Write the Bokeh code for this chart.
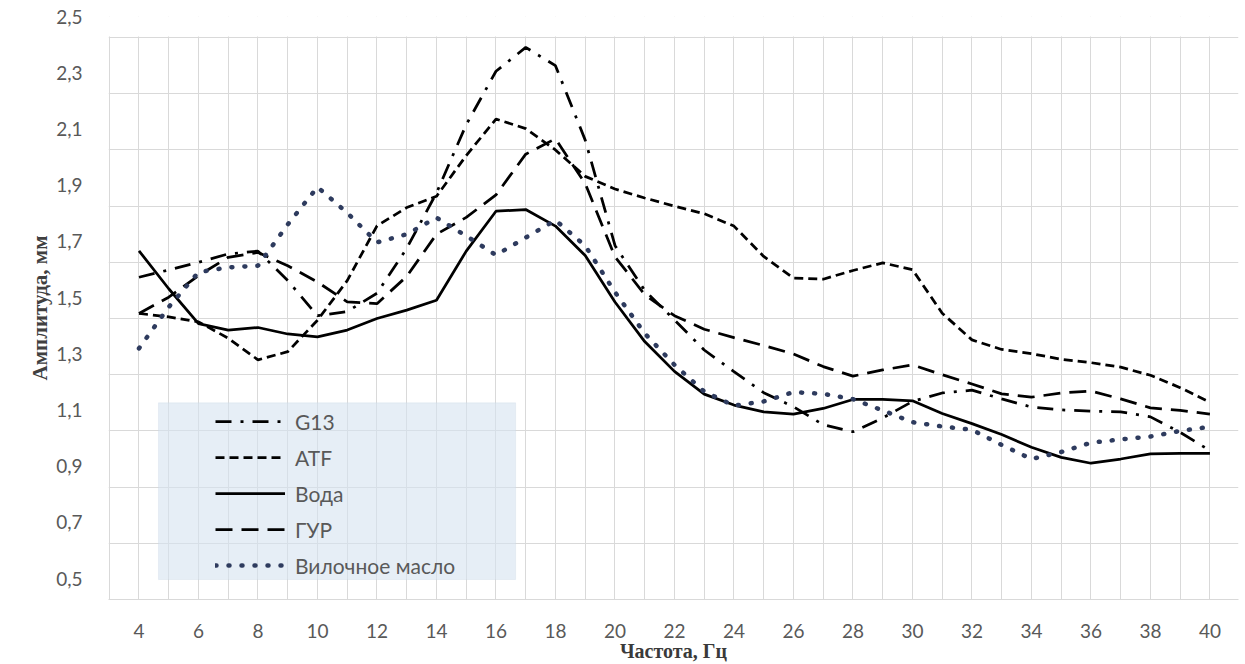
from bokeh.plotting import figure
from bokeh.models import Range1d, FixedTicker, Legend, LegendItem, BoxAnnotation
from bokeh.embed import file_html
from bokeh.resources import INLINE

# ---- data ----
freq = [4, 5, 6, 7, 8, 9, 10, 11, 12, 13, 14, 15, 16, 17, 18, 19, 20, 21, 22,
        23, 24, 25, 26, 27, 28, 29, 30, 31, 32, 33, 34, 35, 36, 37, 38, 39, 40]

g13 = [1.647, 1.673, 1.700, 1.730, 1.740, 1.635, 1.510, 1.525, 1.590, 1.750,
       1.947, 2.190, 2.380, 2.465, 2.400, 2.135, 1.760, 1.600, 1.495, 1.388,
       1.311, 1.236, 1.186, 1.122, 1.097, 1.146, 1.205, 1.235, 1.245, 1.214,
       1.185, 1.175, 1.170, 1.168, 1.150, 1.095, 1.030]

atf = [1.518, 1.506, 1.488, 1.430, 1.353, 1.382, 1.494, 1.635, 1.830, 1.895,
       1.935, 2.080, 2.210, 2.176, 2.100, 2.006, 1.961, 1.929, 1.900, 1.873,
       1.829, 1.721, 1.644, 1.640, 1.671, 1.698, 1.674, 1.519, 1.424, 1.390,
       1.375, 1.355, 1.343, 1.327, 1.298, 1.254, 1.202]

voda = [1.741, 1.606, 1.482, 1.459, 1.468, 1.445, 1.435, 1.459, 1.500, 1.530,
        1.565, 1.740, 1.882, 1.888, 1.829, 1.724, 1.559, 1.418, 1.312, 1.231,
        1.192, 1.168, 1.160, 1.180, 1.212, 1.212, 1.207, 1.162, 1.126, 1.087,
        1.042, 1.006, 0.985, 1.000, 1.018, 1.020, 1.020]

gur = [1.518, 1.576, 1.653, 1.718, 1.735, 1.688, 1.630, 1.559, 1.553, 1.650,
       1.800, 1.860, 1.940, 2.085, 2.140, 1.980, 1.720, 1.585, 1.510, 1.462,
       1.432, 1.404, 1.374, 1.329, 1.295, 1.317, 1.335, 1.300, 1.267, 1.232,
       1.220, 1.235, 1.242, 1.214, 1.182, 1.173, 1.160]

vilka = [1.394, 1.541, 1.665, 1.682, 1.688, 1.835, 1.968, 1.876, 1.771, 1.800,
         1.859, 1.794, 1.726, 1.788, 1.850, 1.759, 1.594, 1.447, 1.335, 1.240,
         1.190, 1.205, 1.238, 1.232, 1.213, 1.173, 1.131, 1.116, 1.104, 1.050,
         1.000, 1.025, 1.058, 1.070, 1.080, 1.100, 1.115]

series_names = ["G13", "ATF", "Вода", "ГУР", "Вилочное масло"]

x_ticks = [4, 6, 8, 10, 12, 14, 16, 18, 20, 22, 24, 26, 28, 30, 32, 34, 36, 38, 40]
y_ticks = [0.5, 0.7, 0.9, 1.1, 1.3, 1.5, 1.7, 1.9, 2.1, 2.3, 2.5]
y_tick_labels = ["0,5", "0,7", "0,9", "1,1", "1,3", "1,5", "1,7", "1,9", "2,1", "2,3", "2,5"]
x_grid = [3] + freq

x_title = "Частота, Гц"
y_title = "Амплитуда, мм"

# ---- layout constants ----
X_START, X_END = 2.975, 40.96
Y_START, Y_END = 0.5, 2.575      # frame runs a little above 2,5 to hold the raised labels
LABEL_RAISE = 0.0746             # in the source the y labels sit ~21 px above their grid lines
GRID_TOP = 2.5

# ---- figure ----
p = figure(width=1243, height=664,
           x_range=Range1d(X_START, X_END), y_range=Range1d(Y_START, Y_END),
           output_backend="svg", toolbar_location=None,
           min_border_left=108, min_border_right=5,
           min_border_top=16, min_border_bottom=64)
p.outline_line_color = None
p.background_fill_color = "white"
p.border_fill_color = "white"

TICK_FONT = "Lato"
GRID = "#d9d9d9"

p.xgrid.ticker = FixedTicker(ticks=x_grid)
p.ygrid.ticker = FixedTicker(ticks=y_ticks)
p.xgrid.grid_line_color = GRID
p.ygrid.grid_line_color = GRID

# white strip hiding the vertical grid above the top grid line
cover = BoxAnnotation(bottom=GRID_TOP + 0.004, top=Y_END, left=X_START, right=X_END,
                      fill_color="white", fill_alpha=1.0, line_color=None,
                      level="underlay")
p.add_layout(cover)

xa = p.xaxis[0]
xa.ticker = FixedTicker(ticks=x_ticks)
xa.axis_line_color = GRID
xa.major_tick_line_color = None
xa.minor_tick_line_color = None
xa.major_tick_out = 0
xa.major_label_standoff = 24
xa.major_label_text_font = TICK_FONT
xa.major_label_text_font_size = "19px"
xa.major_label_text_color = "#595959"
xa.axis_label = x_title
xa.axis_label_text_font = "Liberation Serif"
xa.axis_label_text_font_style = "bold"
xa.axis_label_text_font_size = "20px"
xa.axis_label_text_color = "#3a3a3a"
xa.axis_label_standoff = -1

label_pos = [v + LABEL_RAISE for v in y_ticks]
ya = p.yaxis[0]
ya.ticker = FixedTicker(ticks=label_pos)
ya.major_label_overrides = dict(zip(label_pos, y_tick_labels))
ya.axis_line_color = None
ya.major_tick_line_color = None
ya.minor_tick_line_color = None
ya.major_tick_out = 0
ya.major_label_standoff = 26
ya.major_label_text_font = TICK_FONT
ya.major_label_text_font_size = "19px"
ya.major_label_text_color = "#595959"
ya.axis_label = y_title
ya.axis_label_text_font = "Liberation Serif"
ya.axis_label_text_font_style = "bold"
ya.axis_label_text_font_size = "21px"
ya.axis_label_text_color = "#404040"
ya.axis_label_standoff = 1

# ---- series ----
LW = 2.75
r_g13 = p.line(freq, g13, line_color="black", line_width=LW, line_dash="16 9 3 9")
r_atf = p.line(freq, atf, line_color="black", line_width=LW, line_dash="9 5")
r_voda = p.line(freq, voda, line_color="black", line_width=LW)
r_gur = p.line(freq, gur, line_color="black", line_width=LW, line_dash="17 9")
r_vilka = p.line(freq, vilka, line_color="#2e3b5e", line_width=4.5,
                 line_dash="1 12", line_cap="round")
renderers = [r_g13, r_atf, r_voda, r_gur, r_vilka]

# ---- legend with its shaded panel ----
box = BoxAnnotation(left=4.655, right=16.66, bottom=0.571, top=1.2,
                    fill_color="#d6e2f0", fill_alpha=0.6,
                    line_color="#c8d4e4", line_width=1)
p.add_layout(box)

legend = Legend(items=[LegendItem(label=n, renderers=[r]) for n, r in zip(series_names, renderers)],
                location=(103, 17), orientation="vertical",
                glyph_width=70, glyph_height=26, label_height=26,
                spacing=10, padding=4, margin=0, label_standoff=10,
                label_text_font=TICK_FONT, label_text_font_size="21px",
                label_text_color="#595959",
                background_fill_alpha=0, border_line_alpha=0)
p.add_layout(legend)

open("out.html", "w").write(file_html(p, INLINE))
